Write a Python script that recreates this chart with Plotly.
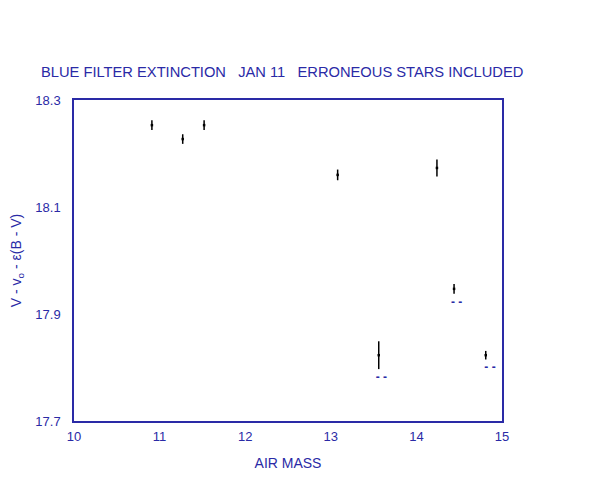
import plotly.graph_objects as go

# Star measurements (air mass, magnitude value, error half-height)
air_mass = [10.91, 11.27, 11.52, 13.08, 14.24, 14.44, 13.56, 14.81]
mag = [18.253, 18.227, 18.253, 18.160, 18.173, 17.947, 17.823, 17.823]
err = [0.009, 0.009, 0.009, 0.010, 0.016, 0.009, 0.026, 0.008]

# Blue dash markers (erroneous stars expected values)
dash_x = [14.47, 13.59, 14.86]
dash_y = [17.921, 17.780, 17.799]

x_ticks = [10, 11, 12, 13, 14, 15]
x_tick_labels = ["10", "11", "12", "13", "14", "15"]
y_ticks = [17.7, 17.9, 18.1, 18.3]
y_tick_labels = ["17.7", "17.9", "18.1", "18.3"]

blue = "#2a2aa6"
font = "Liberation Sans, Arial, sans-serif"

fig = go.Figure()
fig.add_trace(go.Scatter(
    x=air_mass, y=mag, mode="markers",
    marker=dict(symbol="square", size=2.5, color="black", line=dict(width=0)),
    error_y=dict(type="data", array=err, visible=True, color="black", thickness=1.5, width=0),
    showlegend=False,
))
fig.add_trace(go.Scatter(
    x=dash_x, y=dash_y, mode="text", text=["<b>- -</b>"] * len(dash_x),
    textfont=dict(color=blue, size=12, family=font),
    showlegend=False,
))

fig.update_layout(
    width=600, height=477,
    margin=dict(l=66, r=106, t=92, b=64),
    paper_bgcolor="white", plot_bgcolor="white",
    font=dict(family=font, color=blue, size=12),
    annotations=[dict(
        text="BLUE FILTER EXTINCTION   JAN 11   ERRONEOUS STARS INCLUDED",
        xref="paper", yref="paper", x=0.485, y=1.0, yshift=18,
        xanchor="center", yanchor="bottom", showarrow=False,
        font=dict(size=14.7, color=blue, family=font),
    )],
)
fig.update_xaxes(
    range=[10, 15], tickvals=x_ticks, ticktext=x_tick_labels, automargin=False,
    showgrid=False, zeroline=False, showline=True, mirror=True,
    linecolor=blue, linewidth=1.5, ticks="", tickfont=dict(size=13, color=blue),
    ticklabelstandoff=3,
    title=dict(text="AIR MASS", font=dict(size=14, color=blue), standoff=15),
)
fig.update_yaxes(
    range=[17.7, 18.3], tickvals=y_ticks, ticktext=y_tick_labels, automargin=False,
    showgrid=False, zeroline=False, showline=True, mirror=True,
    linecolor=blue, linewidth=1.5, ticks="", tickfont=dict(size=13, color=blue),
    ticklabelstandoff=9,
    title=dict(text="V - v<sub>o</sub> - ε(B - V)", font=dict(size=14, color=blue), standoff=12),
)

fig.write_html("out.html")
